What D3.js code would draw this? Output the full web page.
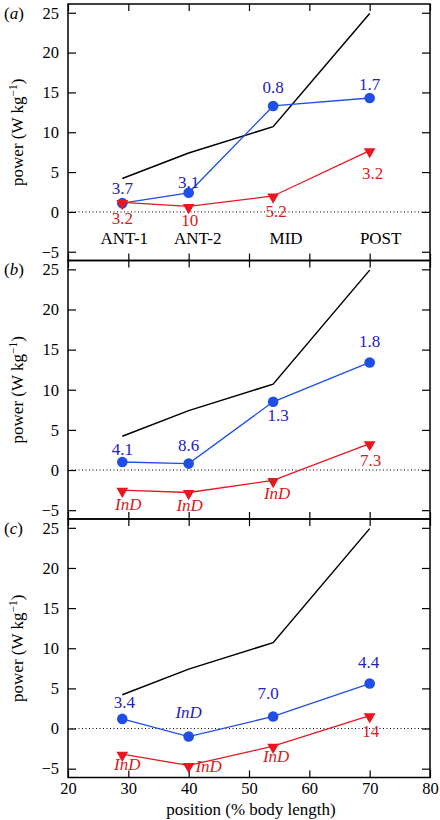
<!DOCTYPE html>
<html><head><meta charset="utf-8">
<script src="https://cdn.jsdelivr.net/npm/d3@7"></script>
<style>body{margin:0;background:#fff}svg{display:block;font-family:"Liberation Serif","DejaVu Serif",serif}</style>
</head><body><svg id="c" width="440" height="820"></svg>
<script>
// ---- data ----
const positions = [29, 40, 54, 70];
const categories = ["ANT-1", "ANT-2", "MID", "POST"];
const panelNames = ["a", "b", "c"];
const blackLine = [4.2, 7.4, 10.7, 24.9];
const blueA = [1.1, 2.4, 13.3, 14.3];
const redA = [1.2, 0.7, 2.0, 7.7];
const blueB = [1.0, 0.8, 8.5, 13.4];
const redB = [-2.5, -2.8, -1.3, 3.3];
const blueC = [1.2, -1.0, 1.5, 5.6];
const redC = [-3.2, -4.6, -2.2, 1.6];
const blueLabelsA = ["3.7", "3.1", "0.8", "1.7"];
const redLabelsA = ["3.2", "10", "5.2", "3.2"];
const blueLabelsB = ["4.1", "8.6", "1.3", "1.8"];
const redLabelsB = ["InD", "InD", "InD", "7.3"];
const blueLabelsC = ["3.4", "InD", "7.0", "4.4"];
const redLabelsC = ["InD", "InD", "InD", "14"];
const yTicks = [-5, 0, 5, 10, 15, 20, 25];
const xTicks = [20, 30, 40, 50, 60, 70, 80];

// ---- layout / label placement (not data) ----
const blueOff = [
  [[0,-15],[0,-11],[0,-19],[0,-14]],
  [[0,-13],[0,-19],[5,13],[0,-21]],
  [[2,-17],[0,-25],[-5,-23],[-1,-22]]
];
const redOff = [
  [[0,16],[1,13.5],[3,15],[3,22]],
  [[6,14],[1,13],[4,13],[1,17]],
  [[5,10],[20,1],[3,10],[1,15]]
];
const catDx = [2, 9, 13, 11];

const panels = [
  {blue: blueA, red: redA, bl: blueLabelsA, rl: redLabelsA},
  {blue: blueB, red: redB, bl: blueLabelsB, rl: redLabelsB},
  {blue: blueC, red: redC, bl: blueLabelsC, rl: redLabelsC}
];

const svg = d3.select("#c");
const L = 68, R = 430;
const edges = [4, 260.5, 519, 777.5];
const x = d3.scaleLinear().domain([20, 80]).range([L, R]);
const BLUE = "#1f4fe6", BLUET = "#2323c4", RED = "#e8161e", REDT = "#d81a1a";
const FS = 17, TFS = 16.5;

panels.forEach((p, i) => {
  const top = edges[i], bottom = edges[i + 1], H = bottom - top;
  const y = d3.scaleLinear().domain([-6.1, 26.1]).range([bottom, top]);
  const g = svg.append("g");

  // zero line
  g.append("line").attr("x1", L).attr("x2", R).attr("y1", y(0)).attr("y2", y(0))
    .attr("stroke", "#000").attr("stroke-width", 1).attr("stroke-dasharray", "1,2.5");

  // axes
  const ax = (a, tr) => {
    const s = g.append("g").attr("transform", tr).call(a);
    s.select(".domain").remove();
    s.attr("font-family", null);
    s.selectAll("line").attr("stroke", "#000").attr("stroke-width", 1.2);
    s.selectAll("text").attr("font-size", TFS).attr("fill", "#000");
    return s;
  };
  ax(d3.axisLeft(y).tickValues(yTicks).tickSize(-8).tickPadding(9).tickFormat(d3.format("d")), `translate(${L},0)`);
  ax(d3.axisRight(y).tickValues(yTicks).tickSize(-8).tickFormat(""), `translate(${R},0)`);
  ax(d3.axisTop(x).tickValues(xTicks).tickSize(-7).tickFormat(""), `translate(0,${top})`);
  ax(d3.axisBottom(x).tickValues(xTicks).tickSize(-7).tickPadding(5)
      .tickFormat(i === 2 ? d3.format("d") : ""), `translate(0,${bottom})`);

  // frame
  g.append("rect").attr("x", L).attr("y", top).attr("width", R - L).attr("height", H)
    .attr("fill", "none").attr("stroke", "#000").attr("stroke-width", 1.5);

  const line = d3.line().x((d, j) => x(positions[j])).y(d => y(d));
  g.append("path").datum(blackLine).attr("d", line).attr("fill", "none")
    .attr("stroke", "#000").attr("stroke-width", 1.5);
  g.append("path").datum(p.blue).attr("d", line).attr("fill", "none")
    .attr("stroke", BLUE).attr("stroke-width", 1.3);
  g.append("path").datum(p.red).attr("d", line).attr("fill", "none")
    .attr("stroke", RED).attr("stroke-width", 1.3);

  g.selectAll(".bc").data(p.blue).join("circle")
    .attr("cx", (d, j) => x(positions[j])).attr("cy", d => y(d)).attr("r", 5.3).attr("fill", BLUE);
  const tri = d3.symbol().type(d3.symbolTriangle).size(60);
  g.selectAll(".rt").data(p.red).join("path").attr("d", tri)
    .attr("transform", (d, j) => `translate(${x(positions[j])},${y(d) + 1}) rotate(180)`)
    .attr("fill", RED);

  const lab = (vals, labels, off, col) => {
    g.selectAll(null).data(labels).join("text")
      .attr("x", (d, j) => x(positions[j]) + off[j][0])
      .attr("y", (d, j) => y(vals[j]) + off[j][1])
      .attr("dy", "0.35em").attr("text-anchor", "middle")
      .attr("font-size", FS).attr("fill", col)
      .attr("font-style", d => d === "InD" ? "italic" : "normal")
      .text(d => d);
  };
  lab(p.blue, p.bl, blueOff[i], BLUET);
  lab(p.red, p.rl, redOff[i], REDT);

  if (i === 0) {
    g.selectAll(null).data(categories).join("text")
      .attr("x", (d, j) => x(positions[j]) + catDx[j]).attr("y", y(-3.3))
      .attr("dy", "0.35em").attr("text-anchor", "middle").attr("font-size", FS).text(d => d);
  }

  // panel label
  const pl = g.append("text").attr("x", 4).attr("y", y(25)).attr("dy", "0.35em").attr("font-size", FS);
  pl.append("tspan").text("(");
  pl.append("tspan").attr("font-style", "italic").text(panelNames[i]);
  pl.append("tspan").text(")");

  // y label
  const yl = g.append("text").attr("transform", `translate(23,${y(10)}) rotate(-90)`)
    .attr("text-anchor", "middle").attr("font-size", FS);
  yl.append("tspan").text("power (W kg");
  yl.append("tspan").attr("font-size", 11.5).attr("dy", -6).text("−1");
  yl.append("tspan").attr("dy", 6).text(")");
});

svg.append("text").attr("x", (L + R) / 2 + 2).attr("y", 815).attr("text-anchor", "middle")
  .attr("font-size", FS).text("position (% body length)");
</script></body></html>
